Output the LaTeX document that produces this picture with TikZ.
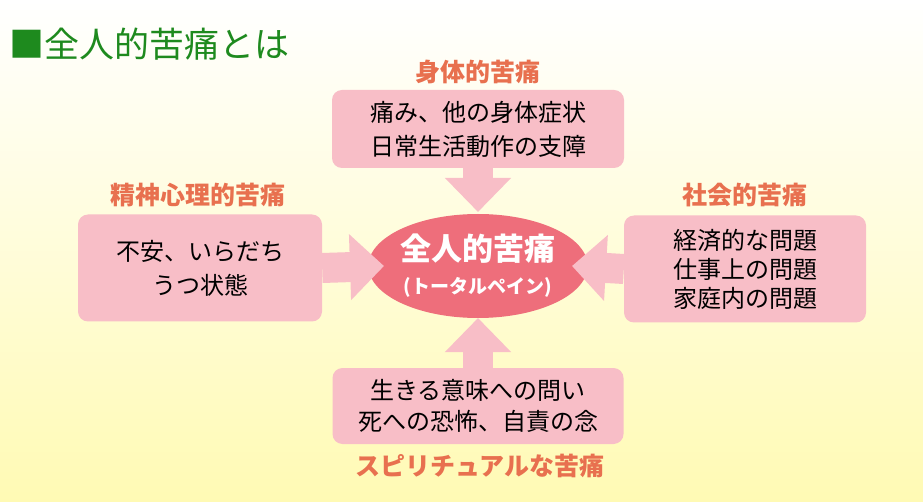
\documentclass[tikz,border=0pt]{standalone}
\usepackage{fontspec}
\setmainfont{Noto Sans CJK JP}
\usetikzlibrary{arrows.meta,shapes.geometric}
\definecolor{boxpink}{HTML}{F8BEC7}
\definecolor{ellred}{HTML}{EE6E7B}
\definecolor{lab}{HTML}{E8704F}
\definecolor{ttl}{HTML}{1E8A1E}
\begin{document}
\begin{tikzpicture}[x=1pt,y=-1pt,
  box/.style={draw=none,fill=boxpink,rounded corners=10pt,inner sep=0pt,align=center,font=\fontsize{24}{34}\selectfont},
  lbl/.style={text=lab,font=\fontsize{25}{28}\selectfont\bfseries},
  barr/.style={draw=boxpink,line width=30pt,-{Triangle[width=64pt,length=34pt]}}]
\shade[top color=white,bottom color={rgb,255:red,255;green,250;blue,180}] (0,0) rectangle (923,502);
\useasboundingbox (0,0) rectangle (923,502);
\node[anchor=west,text=ttl,font=\fontsize{35}{40}\selectfont] (title) at (6,44) {■全人的苦痛とは};
\node[box,minimum width=292pt,minimum height=78pt] (top) at (478,129) {痛み、他の身体症状\\日常生活動作の支障};
\node[box,minimum width=244pt,minimum height=107pt] (left) at (200,268) {不安、いらだち\\うつ状態};
\node[box,minimum width=242pt,minimum height=107pt,font=\fontsize{24}{29}\selectfont] (right) at (745,269) {経済的な問題\\仕事上の問題\\家庭内の問題};
\node[box,minimum width=291pt,minimum height=76pt,font=\fontsize{24}{31}\selectfont] (bot) at (478,406) {生きる意味への問い\\死への恐怖、自責の念};
\node[ellipse,fill=ellred,minimum width=184pt,minimum height=104pt,inner sep=0pt,text=white,align=center,font=\fontsize{31}{33}\selectfont\bfseries] (c) at (478,266) {全人的苦痛\\{\fontsize{19}{22}\selectfont (トータルペイン)}};
\node[lbl] (lt) at (478,72) {身体的苦痛};
\node[lbl] (ll) at (198,195) {精神心理的苦痛};
\node[lbl] (lr) at (745,195) {社会的苦痛};
\node[lbl] (lb) at (480,466) {スピリチュアルな苦痛};
\draw[barr] (top.south) -- (478,212);
\draw[barr] (bot.north) -- (478,318);
\draw[barr] (left.east) -- (384,266);
\draw[barr] (right.west) -- (572,266);
\end{tikzpicture}
\end{document}
